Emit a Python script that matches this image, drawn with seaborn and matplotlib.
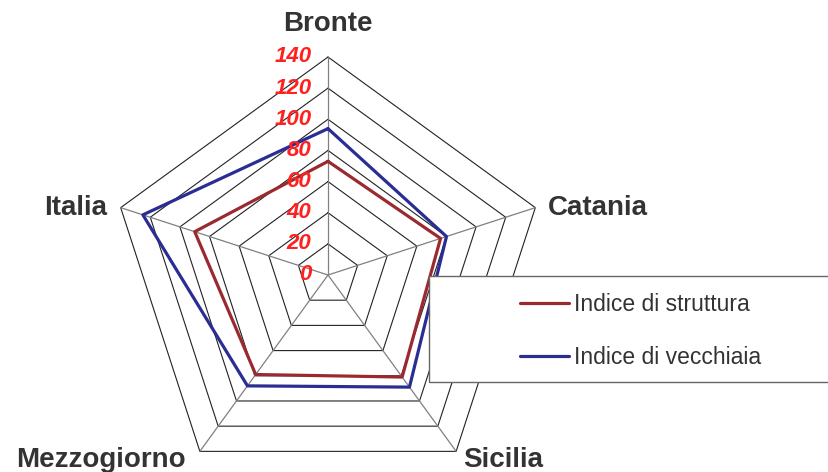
"""
Radar chart : Indice di struttura / Indice di vecchiaia
"""

import numpy as np
import pandas as pd
import matplotlib
import matplotlib.pyplot as plt
from matplotlib.patches import Rectangle
import seaborn as sns

matplotlib.use("Agg")

# ============================================================
# DATI
# ============================================================

categorie = ["Bronte", "Catania", "Sicilia", "Mezzogiorno", "Italia"]
indice_struttura = [73, 76, 81, 79, 90]
indice_vecchiaia = [94, 80, 89, 88, 125]
tacche = [0, 20, 40, 60, 80, 100, 120, 140]
serie_nomi = ["Indice di struttura", "Indice di vecchiaia"]

ROSSO = "#9B2A30"
BLU = "#2A2E92"
ROSSO_TACCHE = "#FF2020"
GRIGIO_TESTO = "#333333"

sns.set_theme(style="white")
plt.rcParams["font.family"] = ["Liberation Sans", "DejaVu Sans"]

# ============================================================
# PREPARAZIONE
# ============================================================

angoli = np.linspace(0, 2 * np.pi, len(categorie), endpoint=False)
angoli_chiusi = np.append(angoli, angoli[0])

righe = []
for nome, valori in zip(serie_nomi, [indice_struttura, indice_vecchiaia]):
    chiusi = valori + valori[:1]
    for i, (a, v) in enumerate(zip(angoli_chiusi, chiusi)):
        righe.append({"ordine": i, "theta": a, "valore": v, "serie": nome})
df = pd.DataFrame(righe)

# ============================================================
# FIGURA
# ============================================================

W, H = 829, 472
cx, cy, R = 328, 275, 218  # centro e raggio in pixel

fig = plt.figure(figsize=(W / 100, H / 100), dpi=100)
ax = fig.add_axes(
    [(cx - R) / W, (H - cy - R) / H, 2 * R / W, 2 * R / H],
    projection="polar",
)
ax.set_theta_offset(np.pi / 2)
ax.set_theta_direction(-1)
ax.set_ylim(0, 140)
ax.grid(False)
ax.spines["polar"].set_visible(False)
ax.set_xticks([])
ax.set_yticks([])
ax.patch.set_alpha(0)

# Griglia pentagonale
for r in tacche[1:]:
    ax.plot(angoli_chiusi, [r] * len(angoli_chiusi),
            color="#222222", lw=0.8, zorder=1, clip_on=False)
for a in angoli:
    ax.plot([a, a], [0, 140], color="#808080", lw=0.9, zorder=1, clip_on=False)

sns.lineplot(
    data=df, x="theta", y="valore", hue="serie",
    palette={serie_nomi[0]: ROSSO, serie_nomi[1]: BLU},
    sort=False, estimator=None, units="serie",
    linewidth=2.3, ax=ax, zorder=3,
)
for line in ax.get_lines():
    line.set_clip_on(False)

handles, labels = ax.get_legend_handles_labels()
ax.get_legend().remove()
for h in handles:
    h.set_linewidth(2.3)

# Etichette delle tacche
for v in tacche:
    ax.annotate(str(v), xy=(0, v), xytext=(-12, 0), textcoords="offset points",
                ha="right", va="center", color=ROSSO_TACCHE, fontsize=16,
                fontweight="bold", fontstyle="italic", zorder=5,
                annotation_clip=False)

# Etichette delle categorie
offsets = {
    "Bronte": ((0, 24), "center", "center"),
    "Catania": ((9, 0), "left", "center"),
    "Sicilia": ((5, -6), "left", "center"),
    "Mezzogiorno": ((-10, -6), "right", "center"),
    "Italia": ((-10, 0), "right", "center"),
}
for nome, a in zip(categorie, angoli):
    (dx, dy), ha, va = offsets[nome]
    ax.annotate(nome, xy=(a, 140), xytext=(dx, dy), textcoords="offset points",
                ha=ha, va=va, fontsize=20, fontweight="bold",
                color=GRIGIO_TESTO, annotation_clip=False)

# Riquadro della legenda
fig.patches.append(Rectangle(
    (429 / W, (H - 382) / H), 420 / W, 106 / H, transform=fig.transFigure,
    facecolor="white", edgecolor="#666666", linewidth=1.0, zorder=4,
))
leg = fig.legend(
    handles, labels, loc="upper left",
    bbox_to_anchor=(509 / W, (H - 282) / H),
    frameon=False, fontsize=16.5, handlelength=2.1, handletextpad=0.25,
    labelspacing=1.3, borderpad=0,
)
for t in leg.get_texts():
    t.set_color(GRIGIO_TESTO)
leg.set_zorder(6)

fig.savefig("out.png", dpi=100, facecolor="white")
